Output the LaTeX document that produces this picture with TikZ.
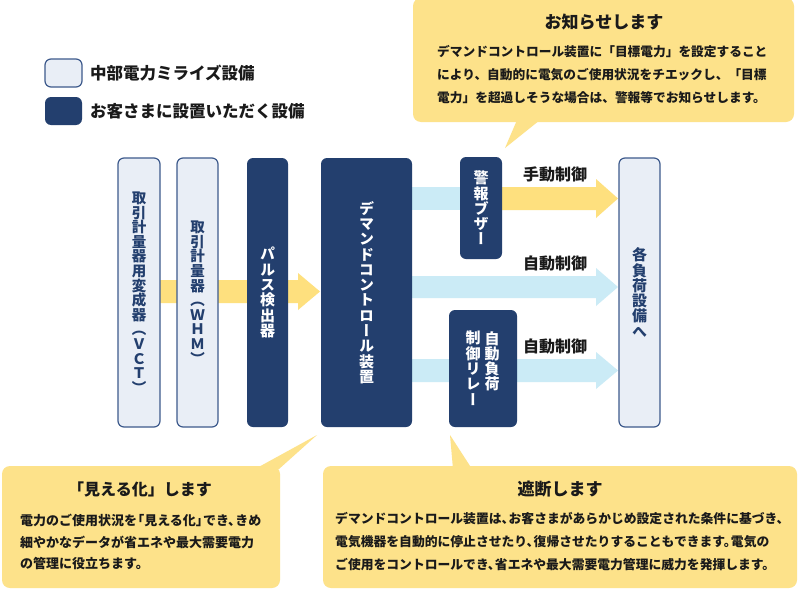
\documentclass[tikz,border=0pt]{standalone}
\usepackage{fontspec}
\setmainfont{Noto Sans CJK JP}
\newfontfamily\jpv{Noto Sans CJK JP}[RawFeature=+vert]
\definecolor{navy}{HTML}{233F6E}
\definecolor{lightbox}{HTML}{E9EEF6}
\definecolor{lightborder}{HTML}{3D5A8C}
\definecolor{bubble}{HTML}{FDE28A}
\definecolor{yarrow}{HTML}{FEE07E}
\definecolor{barrow}{HTML}{CBEBF6}
\definecolor{txt}{HTML}{1A1A1A}
\newcommand\pc{、\kern-.45em}
\newcommand\pk{。\kern-.45em}
\newcommand\lbk{\kern-.45em「}
\newcommand\rbk{」\kern-.45em}
\newcommand\vfont[2]{\jpv\bfseries\fontsize{#1}{#2}\selectfont\lineskiplimit=-50pt}
\tikzset{
  lightcol/.style={draw=lightborder, line width=1.2pt, fill=lightbox, rounded corners=6pt, inner sep=0pt, align=center, text=navy},
  darkcol/.style={fill=navy, rounded corners=6pt, inner sep=0pt, align=center, text=white},
  bubblebox/.style={fill=bubble, rounded corners=8pt, inner sep=0pt},
  body/.style={anchor=west, inner sep=0pt, text=txt, font=\bfseries\fontsize{#1}{#1}\selectfont},
  title/.style={inner sep=0pt, text=txt, font=\bfseries\fontsize{#1}{#1}\selectfont},
  ctl/.style={inner sep=0pt, text=txt, font=\bfseries\fontsize{16}{16}\selectfont},
}
\begin{document}
\begin{tikzpicture}[x=1pt,y=-1pt]
\path[use as bounding box, fill=white] (0,0) rectangle (800,589);

% legend
\node[lightcol, minimum width=37pt, minimum height=28pt] (legA) at (63.5,73) {};
\node[darkcol, minimum width=37pt, minimum height=28pt] (legB) at (63.5,111) {};
\node[body=16.5] (legAt) at (90,73) {中部電力ミライズ設備};
\node[body=16.5] (legBt) at (90,111) {お客さまに設置いただく設備};

% top bubble
\node[bubblebox, minimum width=381pt, minimum height=124pt] (bubT) at (603.5,60) {};
\coordinate (tipT) at (505,148);
\fill[bubble] (517,120) -- (540,120) -- (tipT) -- cycle;
\node[title=17] (bubTt) at (604,22) {お知らせします};
\node[body=12.7] at (437,52) {デマンドコントロール装置に「目標電力」を設定すること};
\node[body=12.7] at (437,75) {により、自動的に電気のご使用状況をチエックし、「目標};
\node[body=12.7] at (437,98) {電力」を超過しそうな場合は、警報等でお知らせします。};

% bottom-left bubble
\node[bubblebox, minimum width=278pt, minimum height=122pt] (bubL) at (141,527) {};
\coordinate (tipL) at (317,435);
\fill[bubble] (255,469) -- (279,469) -- (tipL) -- cycle;
\node[title=16] (bubLt) at (140,489) {「見える化」します};
\node[body=13] at (20,520) {電力のご使用状況を\lbk 見える化\rbk でき\pc きめ};
\node[body=13] at (20,542) {細やかなデータが省エネや最大需要電力};
\node[body=13] at (20,564) {の管理に役立ちます。};

% bottom-right bubble
\node[bubblebox, minimum width=474pt, minimum height=122pt] (bubR) at (560,527) {};
\coordinate (tipR) at (450,435);
\fill[bubble] (453,469) -- (472,469) -- (tipR) -- cycle;
\node[title=17] (bubRt) at (560,489) {遮断します};
\node[body=12.8] at (335,519) {デマンドコントロール装置は\pc お客さまがあらかじめ設定された条件に基づき、};
\node[body=12.8] at (335,542) {電気機器を自動的に停止させたり\pc 復帰させたりすることもできます\pk 電気の};
\node[body=12.8] at (335,565) {ご使用をコントロールでき\pc 省エネや最大需要電力管理に威力を発揮します。};

% fat arrows (drawn under boxes)
\fill[yarrow] (160,280) -- (298,280) -- (298,273) -- (320,291.5) -- (298,310) -- (298,303) -- (160,303) -- cycle;
\fill[barrow] (412,187) -- (470,187) -- (470,210) -- (412,210) -- cycle;
\fill[yarrow] (502,187) -- (596,187) -- (596,179) -- (618,198.5) -- (596,218) -- (596,210) -- (502,210) -- cycle;
\fill[barrow] (412,276) -- (596,276) -- (596,268) -- (618,287) -- (596,306) -- (596,298) -- (412,298) -- cycle;
\fill[barrow] (412,359) -- (596,359) -- (596,352) -- (618,370.5) -- (596,389) -- (596,382) -- (412,382) -- cycle;

% boxes
\node[lightcol, minimum width=42pt, minimum height=269pt, font=\vfont{14.5}{14.6}] (vct) at (139,292.5)
  {取\\引\\計\\量\\器\\用\\変\\成\\器\\（\\Ｖ\\Ｃ\\Ｔ\\）};
\node[lightcol, minimum width=41pt, minimum height=269pt, font=\vfont{14.5}{14.6}] (whm) at (197.5,292.5)
  {取\\引\\計\\量\\器\\（\\Ｗ\\Ｈ\\Ｍ\\）};
\node[darkcol, minimum width=41pt, minimum height=269pt, font=\vfont{15}{15.3}] (pulse) at (267.5,292.5)
  {パ\\ル\\ス\\検\\出\\器};
\node[darkcol, minimum width=91pt, minimum height=269pt, font=\vfont{15}{15.3}] (demand) at (366.5,292.5)
  {デ\\マ\\ン\\ド\\コ\\ン\\ト\\ロ\\ー\\ル\\装\\置};
\node[darkcol, minimum width=42pt, minimum height=102pt, font=\vfont{15}{15.3}] (buzzer) at (481,208)
  {警\\報\\ブ\\ザ\\ー};
\node[darkcol, minimum width=68pt, minimum height=117pt] (relay) at (483,368.5) {};
\node[inner sep=0pt, anchor=north, text=white, align=center, font=\vfont{15}{15.3}] (relayR) at (492,331)
  {自\\動\\負\\荷};
\node[inner sep=0pt, anchor=north, text=white, align=center, font=\vfont{15}{15.3}] (relayL) at (473,331)
  {制\\御\\リ\\レ\\ー};
\node[lightcol, minimum width=41pt, minimum height=269pt, font=\vfont{15}{15.3}] (load) at (639.5,292.5)
  {各\\負\\荷\\設\\備\\へ};

% arrow labels
\node[ctl] (l1) at (555,174) {手動制御};
\node[ctl] (l2) at (555,263) {自動制御};
\node[ctl] (l3) at (555,346) {自動制御};
\end{tikzpicture}
\end{document}
